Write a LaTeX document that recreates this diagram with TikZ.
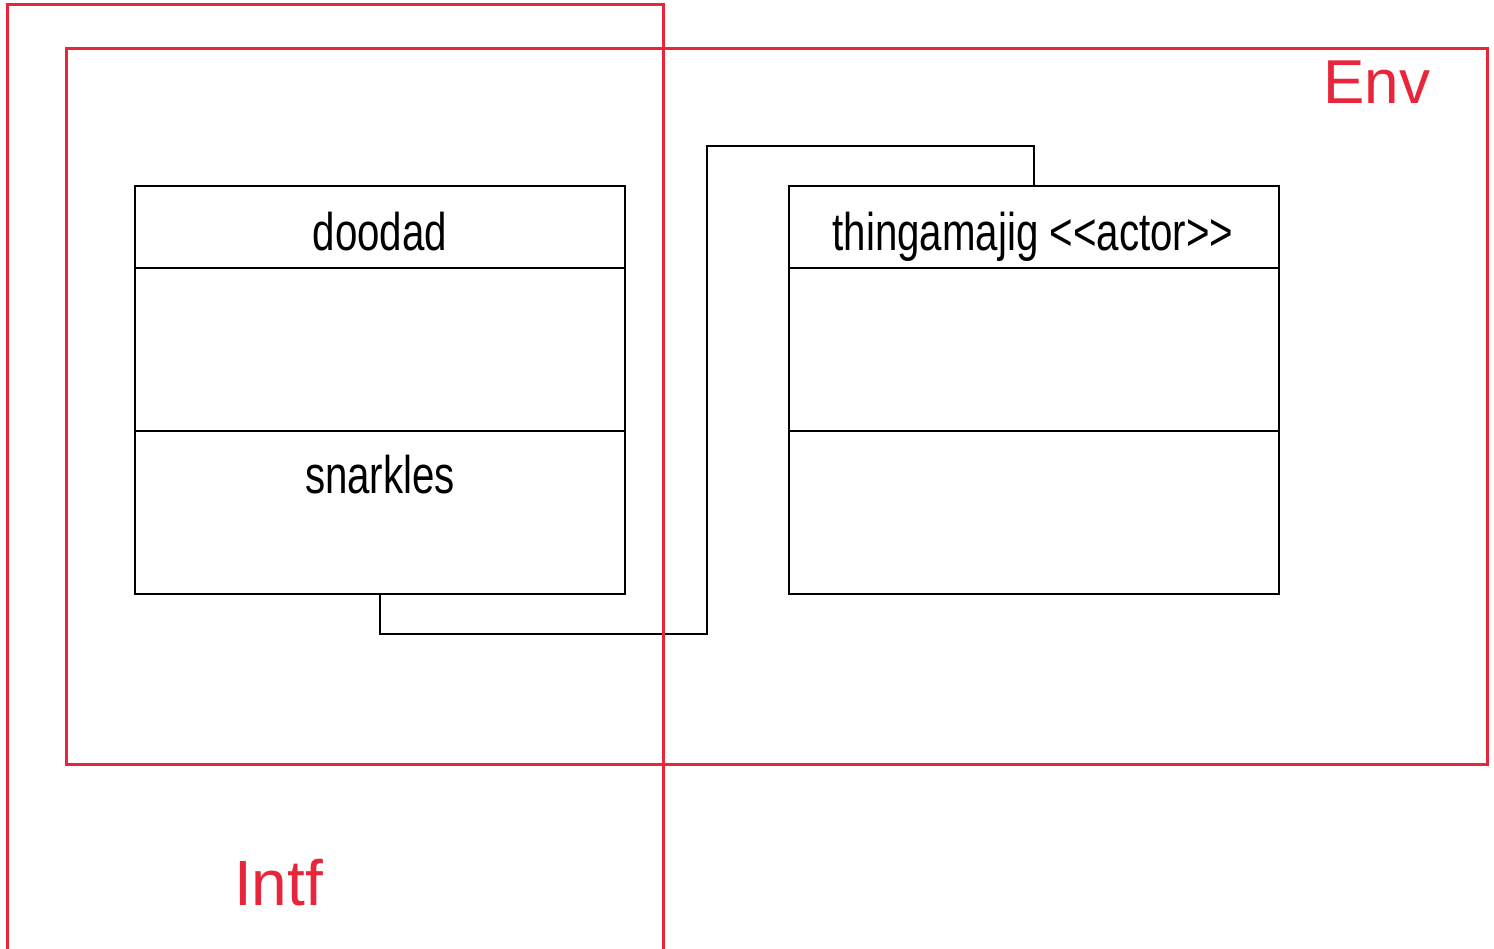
\documentclass[tikz,border=0pt]{standalone}
\usepackage{fontspec}
\setmainfont{Liberation Sans}
\newfontfamily\narrowfont{Liberation Sans}[FakeStretch=0.76]
\definecolor{envred}{HTML}{E8253A}
\tikzset{
  comp/.style={draw=black, line width=2pt, rectangle, inner sep=0pt, outer sep=0pt, minimum width=490pt, anchor=north west},
  lbl/.style={font=\narrowfont\fontsize{53}{60}\selectfont, inner sep=0pt, anchor=base},
  redlbl/.style={text=envred, inner sep=0pt, anchor=base west},
  frame/.style={draw=envred, line width=3pt, rectangle, inner sep=0pt, outer sep=0pt, anchor=north west},
  conn/.style={draw=black, line width=2pt}
}
\begin{document}
\begin{tikzpicture}[x=1pt,y=-1pt]
\useasboundingbox (0,0) rectangle (1494,948);
\clip (0,0) rectangle (1494,948);
% doodad class
\node[comp, minimum height=82pt] (dtitle) at (135,186) {};
\node[comp, minimum height=163pt] (dattr) at (135,268) {};
\node[comp, minimum height=163pt] (dops) at (135,431) {};
% thingamajig class
\node[comp, minimum height=82pt] (ttitle) at (789,186) {};
\node[comp, minimum height=163pt] (tattr) at (789,268) {};
\node[comp, minimum height=163pt] (tops) at (789,431) {};
% labels
\node[lbl] (dname) at (380,250) {doodad};
\node[lbl] (dop) at (380,493) {snarkles};
\node[lbl] (tname) at (1033,250) {thingamajig <{}<actor>{}>};
% connector
\coordinate (c1) at (707,634);
\coordinate (c2) at (707,146);
\draw[conn] (dops.south) |- (c1) -- (c2) -| (ttitle.north);
% frames
\node[frame, minimum width=656pt, minimum height=980pt] (intf) at (7,4) {};
\node[frame, minimum width=1421pt, minimum height=716pt] (env) at (66,48) {};
\node[redlbl, font=\fontsize{62}{70}\selectfont] (envlbl) at (1323,103) {Env};
\node[redlbl, font=\fontsize{64}{72}\selectfont] (intflbl) at (234,905) {Intf};
\end{tikzpicture}
\end{document}
